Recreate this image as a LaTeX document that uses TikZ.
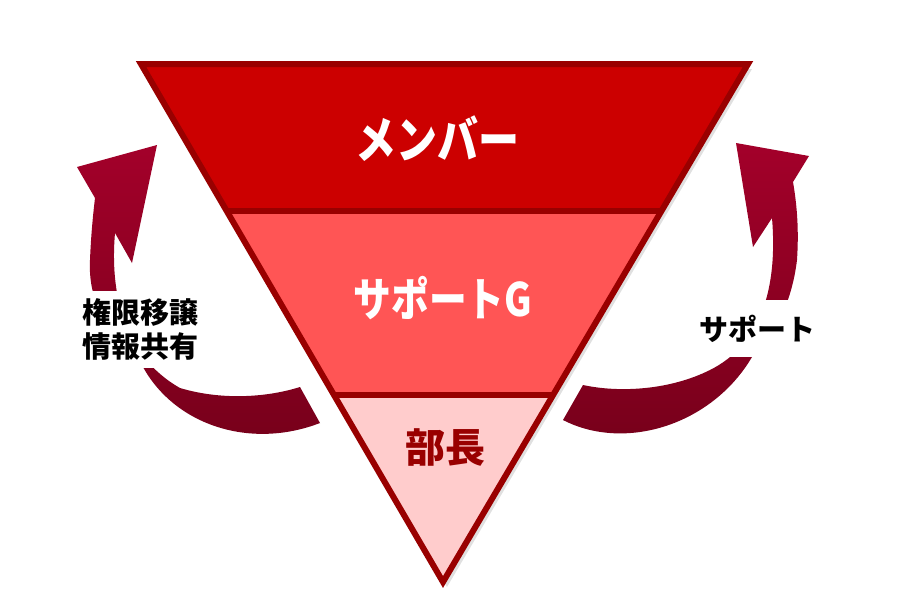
\documentclass[tikz,border=0pt]{standalone}
\usepackage{fontspec}
\newfontfamily\jp{Noto Sans CJK JP}
\newfontfamily\jpnarrow{Noto Sans CJK JP}[FakeStretch=0.82]
\usetikzlibrary{calc}
\definecolor{topred}{HTML}{CC0000}
\definecolor{midred}{HTML}{FF5555}
\definecolor{lowpink}{HTML}{FFCCCC}
\definecolor{edgered}{HTML}{990000}
\definecolor{arrtop}{HTML}{A3002A}
\definecolor{arrbot}{HTML}{76001A}
\begin{document}
\begin{tikzpicture}[x=1pt,y=-1pt,
  band/.style={draw=edgered,line width=6pt,line join=miter},
  bandtext/.style={inner sep=0pt},
  sidelabel/.style={font=\jp\bfseries\fontsize{29}{34}\selectfont,fill=white,align=center,text=black},
  arrowshape/.style={top color=arrtop,bottom color=arrbot,draw=none}]
\useasboundingbox (0,0) rectangle (900,600);
\fill[white] (0,0) rectangle (900,600);
\coordinate (A) at (141,64);
\coordinate (B) at (748,64);
\coordinate (C) at (443,582);
\coordinate (L1) at ($(A)!0.2838!(C)$);
\coordinate (R1) at ($(B)!0.2838!(C)$);
\coordinate (L2) at ($(A)!0.639!(C)$);
\coordinate (R2) at ($(B)!0.639!(C)$);
% soft shadow
\fill[black,opacity=0.12] ([shift={(4,5)}]A) -- ([shift={(4,5)}]B) -- ([shift={(4,5)}]C) -- cycle;
% bands
\fill[topred] (A) -- (B) -- (R1) -- (L1) -- cycle;
\fill[midred] (L1) -- (R1) -- (R2) -- (L2) -- cycle;
\fill[lowpink] (L2) -- (R2) -- (C) -- cycle;
\draw[edgered,line width=6pt] (L1) -- (R1) (L2) -- (R2);
\draw[band] (A) -- (B) -- (C) -- cycle;
\node[bandtext,text=white,font=\jpnarrow\bfseries\fontsize{50}{56}\selectfont] (member) at (437,139) {メンバー};
\node[bandtext,text=white,font=\jpnarrow\bfseries\fontsize{46}{52}\selectfont] (supportg) at (443,298) {サポートG};
\node[bandtext,text=edgered,font=\jp\bfseries\fontsize{40}{46}\selectfont] (head) at (445,447) {部長};
% left curved arrow
\path[arrowshape] (320,423) .. controls (250,450) and (175,425) .. (143,367)
  .. controls (105,330) and (88,300) .. (90,260)
  .. controls (91,235) and (93,215) .. (95,198)
  -- (77,167) -- (157,145) -- (132,263) -- (115,233)
  .. controls (110,290) and (122,355) .. (180,388)
  .. controls (220,400) and (265,398) .. (300,387) -- cycle;
% right curved arrow
\path[arrowshape] (563,420) .. controls (625,452) and (712,425) .. (752,357)
  .. controls (778,330) and (792,300) .. (797,260)
  .. controls (799,230) and (797,205) .. (793,182)
  -- (809,156) -- (736,143) -- (753,247) -- (772,218)
  .. controls (778,290) and (760,345) .. (710,370)
  .. controls (670,390) and (620,393) .. (583,385) -- cycle;
\node[sidelabel,minimum height=77pt,inner xsep=4pt] (leftlbl) at (140,329) {権限移譲\\情報共有};
\node[sidelabel,minimum height=57pt,inner xsep=4pt] (rightlbl) at (757,328.5) {サポート};
\end{tikzpicture}
\end{document}
